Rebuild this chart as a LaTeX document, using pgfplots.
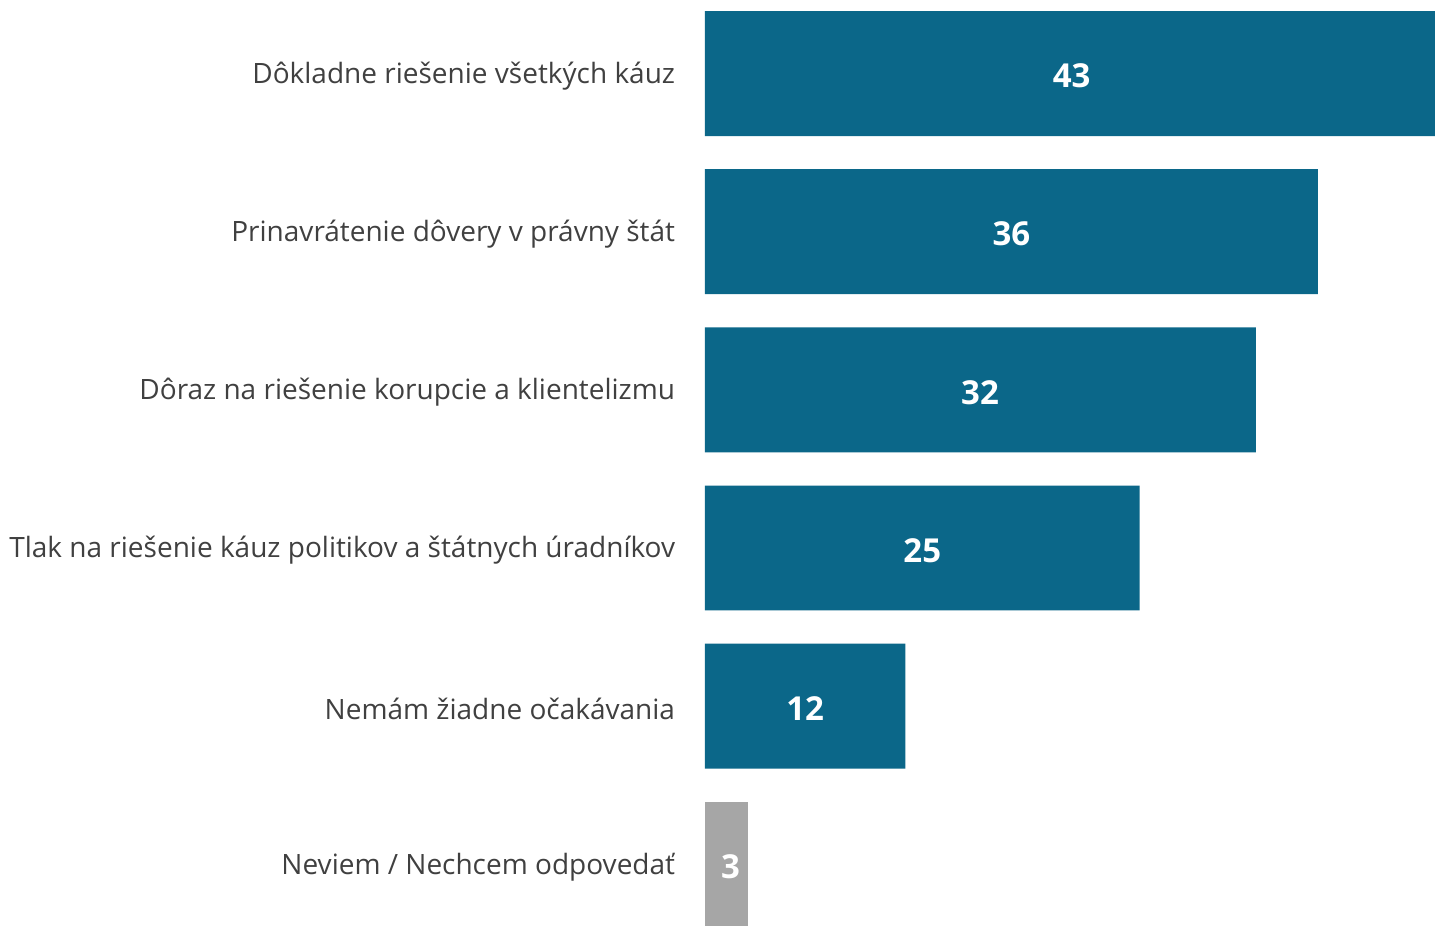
\documentclass[border=0pt]{standalone}
\usepackage{pgfplots}
\pgfplotsset{compat=1.18}
\usepackage{fontspec}
\setmainfont{Open Sans}
\definecolor{barteal}{HTML}{0B6789}
\definecolor{bargray}{HTML}{A6A6A6}
\definecolor{txt}{HTML}{404040}
\begin{document}
\begin{tikzpicture}
\begin{axis}[
  scale only axis,
  width=365pt, height=463pt,
  xbar, bar shift=0pt, bar width=0.79,
  xmin=0, xmax=43,
  ymin=-0.465, ymax=5.39,
  y dir=reverse,
  axis x line=none,
  axis y line*=left,
  y axis line style={draw=none},
  ytick={0,1,2,3,4,5},
  yticklabels={Dôkladne riešenie všetkých káuz,Prinavrátenie dôvery v právny štát,Dôraz na riešenie korupcie a klientelizmu,Tlak na riešenie káuz politikov a štátnych úradníkov,Nemám žiadne očakávania,Neviem / Nechcem odpovedať},
  yticklabel style={font=\fontsize{14pt}{16pt}\selectfont, text=txt, anchor=east, inner sep=0pt, xshift=-10.5pt, yshift=-1.3pt},
  ytick style={draw=none},
  xtick=\empty,
  clip=false,
]
\addplot[fill=barteal, draw=none] coordinates {(43,0) (36.1,1) (32.45,2) (25.6,3) (11.8,4)};
\addplot[fill=bargray, draw=none] coordinates {(2.53,5)};
\addplot[only marks, mark=none, nodes near coords, point meta=explicit symbolic,
  every node near coord/.style={anchor=center, yshift=-1.2pt, text=white, font=\fontsize{16.5pt}{18pt}\selectfont\bfseries}]
  coordinates {(21.6,0)[43] (18.05,1)[36] (16.2,2)[32] (12.8,3)[25] (5.9,4)[12] (1.5,5)[3]};
\end{axis}
\pgfresetboundingbox
\path (current axis.south west) ++(-352.5pt,0) rectangle (current axis.north east);
\end{tikzpicture}
\end{document}
